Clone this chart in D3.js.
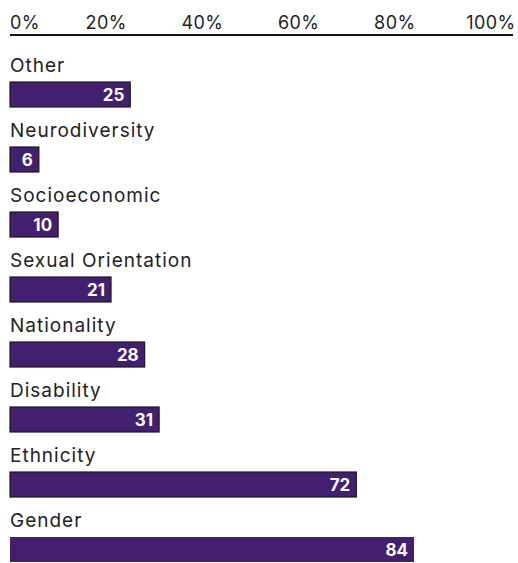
<!DOCTYPE html>
<html><head><meta charset="utf-8">
<script src="https://cdn.jsdelivr.net/npm/d3@7"></script>
<style>html,body{margin:0;padding:0;background:#fff;overflow:hidden}</style>
</head><body>
<script>
const categories = ["Other","Neurodiversity","Socioeconomic","Sexual Orientation","Nationality","Disability","Ethnicity","Gender"];
const values = [25,6,10,21,28,31,72,84];
const tickValues = [0,20,40,60,80,100];

const W = 518, H = 563;
const svg = d3.select("body").append("svg").attr("width", W).attr("height", H);
const font = "Inter, 'Noto Sans', sans-serif";
const x = d3.scaleLinear().domain([0,100]).range([10,491]);
const y = d3.scaleBand().domain(categories).range([82, 82+65*8]).paddingInner(0).paddingOuter(0);

// top axis
svg.append("line").attr("x1",10).attr("x2",513).attr("y1",35).attr("y2",35)
  .attr("stroke","#111").attr("stroke-width",2);
svg.selectAll("text.tick").data(tickValues).join("text").attr("class","tick")
  .attr("x", d=> x(d))
  .attr("y", 29)
  .attr("text-anchor", (d,i)=> i===0 ? "start" : "middle")
  .attr("font-family", font).attr("font-size", 18).attr("letter-spacing", 0.4).attr("fill","#222")
  .text(d=> d+"%");

const g = svg.selectAll("g.row").data(categories).join("g").attr("class","row");
g.append("text").attr("x",10).attr("y", d=> y(d)-10)
  .attr("font-family", font).attr("font-size", 19).attr("letter-spacing", 1)
  .attr("fill","#222").text(d=>d);
g.append("rect").attr("x", x(0)).attr("y", d=> y(d))
  .attr("width", (d,i)=> x(values[i])-x(0)).attr("height", 25)
  .attr("fill","#431f6f")
  .attr("stroke", (d,i)=> i===categories.length-1 ? "none" : "#1a1a1a")
  .attr("stroke-width",1.2);
g.append("text").attr("x",(d,i)=> x(values[i])-6).attr("y", d=> y(d)+19)
  .attr("text-anchor","end").attr("font-family", font).attr("font-weight",700)
  .attr("font-size", 17).attr("fill","#fff").text((d,i)=> values[i]);
</script>
</body></html>
